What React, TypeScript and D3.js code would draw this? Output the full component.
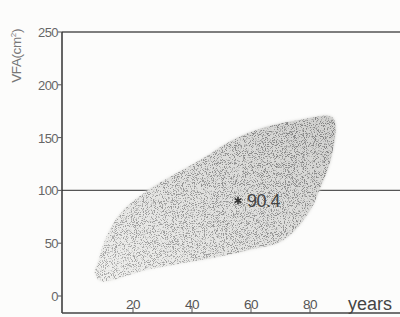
import React from 'react';
import * as d3 from 'd3';

// outline of the scatter cloud (age, VFA)
const cloudAge = [7, 8, 11, 16, 25, 43, 54, 65, 77, 87, 88.5, 87, 83.5, 80, 71, 60, 48.5, 25, 9];
const cloudVFA = [23, 31, 56, 79, 100, 129, 148, 160, 167, 170, 164, 129, 103, 81, 53, 44, 37, 25, 14];

const meanAge = [55.6];
const meanVFA = [90.4];
const threshold = [100];

const xTicks = [20, 40, 60, 80];
const yTicks = [0, 50, 100, 150, 200, 250];

const W = 400;
const H = 317;

const App = () => {
  const x = d3.scaleLinear().domain([0, 80]).range([74, 310]);
  const y = d3.scaleLinear().domain([0, 250]).range([296, 32]);

  const axisX = 62;
  const baseY = 313;

  const cloud = cloudAge.map((a, i) => [a, cloudVFA[i]] as [number, number]);
  const outline = d3.line<[number, number]>()
    .x(d => x(d[0]))
    .y(d => y(d[1]))
    .curve(d3.curveCatmullRomClosed.alpha(0.5))(cloud) || '';

  const star = d3.symbol(d3.symbolAsterisk, 42)() || '';
  const font = '"Liberation Sans", Arial, sans-serif';

  return (
    <svg width={W} height={H} style={{ position: 'absolute', left: 0, top: 0, background: '#fcfcfb' }}>
      <defs>
        <linearGradient id="shade" x1="0" y1="1" x2="1" y2="0">
          <stop offset="0%" stopColor="#f0f0ee" />
          <stop offset="100%" stopColor="#d0d0ce" />
        </linearGradient>
        <linearGradient id="density" x1="0" y1="1" x2="1" y2="0">
          <stop offset="0%" stopColor="#000" stopOpacity={0.6} />
          <stop offset="100%" stopColor="#000" stopOpacity={1} />
        </linearGradient>
        <filter id="stipple" x="0" y="0" width="1" height="1">
          <feTurbulence type="fractalNoise" baseFrequency="1.1" numOctaves={2} seed={11} result="n" />
          <feColorMatrix in="n" type="matrix"
            values="0 0 0 0 0.22  0 0 0 0 0.22  0 0 0 0 0.22  7 0 0 0 -3.6" result="d" />
          <feComposite in="d" in2="SourceGraphic" operator="in" />
        </filter>
        <filter id="soft" x="-5%" y="-5%" width="110%" height="110%">
          <feGaussianBlur stdDeviation={1.6} />
        </filter>
      </defs>

      {/* frame lines */}
      <line x1={axisX} x2={W} y1={y(250)} y2={y(250)} stroke="#555" strokeWidth={1.3} />
      <line x1={axisX} x2={W} y1={y(threshold[0])} y2={y(threshold[0])} stroke="#555" strokeWidth={1.3} />
      <line x1={axisX} x2={axisX} y1={y(250)} y2={baseY} stroke="#333" strokeWidth={1.5} />
      <line x1={axisX} x2={W} y1={baseY} y2={baseY} stroke="#444" strokeWidth={1.5} />

      {/* point cloud */}
      <path d={outline} fill="url(#shade)" filter="url(#soft)" />
      <path d={outline} fill="url(#shade)" />
      <path d={outline} fill="url(#density)" filter="url(#stipple)" />

      {/* mean marker */}
      <path d={star} transform={`translate(${x(meanAge[0])},${y(meanVFA[0])})`}
        fill="none" stroke="#333" strokeWidth={1.6} />
      <text x={x(meanAge[0]) + 9} y={y(meanVFA[0]) + 6.5}
        fontFamily={font} fontSize={18} fill="#444" letterSpacing={-0.5}>{meanVFA[0]}</text>

      {/* y ticks */}
      {yTicks.map(t => (
        <g key={t}>
          <line x1={axisX - 4} x2={axisX} y1={y(t)} y2={y(t)} stroke="#555" strokeWidth={1} />
          <text x={axisX - 4} y={y(t) + 5} textAnchor="end" fontFamily={font} fontSize={13}
            fill="#666" letterSpacing={-0.6}>{t}</text>
        </g>
      ))}

      {/* x ticks */}
      {xTicks.map(t => (
        <g key={t}>
          <line x1={x(t)} x2={x(t)} y1={baseY} y2={baseY - 6} stroke="#555" strokeWidth={1} />
          <text x={x(t)} y={baseY - 4} textAnchor="middle" fontFamily={font} fontSize={13.5}
            fill="#555" letterSpacing={-0.6}>{t}</text>
        </g>
      ))}

      <text x={392} y={baseY - 3} textAnchor="end" fontFamily={font} fontSize={18} fill="#444">years</text>

      <text transform={`translate(21,${y(250) - 3}) rotate(-90)`} textAnchor="end"
        fontFamily={font} fontSize={13.5} fill="#777" letterSpacing={-0.4}>
        VFA(cm<tspan dy={-5} fontSize={8}>2</tspan><tspan dy={5}>)</tspan>
      </text>
    </svg>
  );
};

export default App;
